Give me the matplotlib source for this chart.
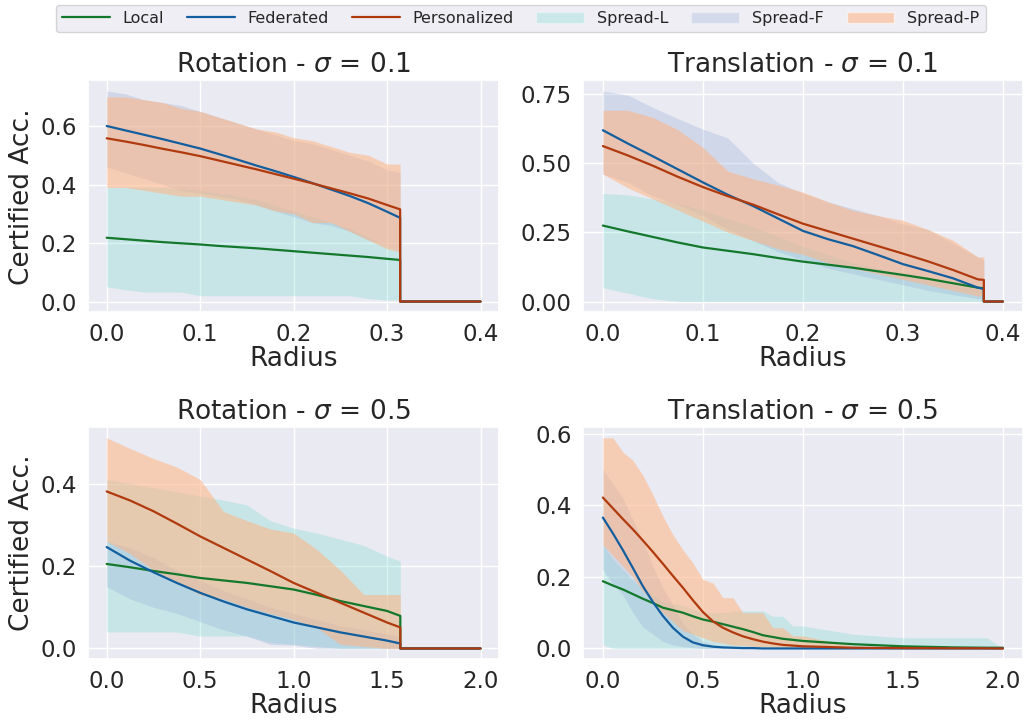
import numpy as np
import matplotlib
matplotlib.use('Agg')
import matplotlib.pyplot as plt
import seaborn as sns
from matplotlib.lines import Line2D
from matplotlib.patches import Patch

sns.set_theme(style='darkgrid')
plt.rcParams['font.family'] = ['DejaVu Sans']

# ---- data ----
titles = ['Rotation - $\\sigma$ = 0.1', 'Translation - $\\sigma$ = 0.1',
          'Rotation - $\\sigma$ = 0.5', 'Translation - $\\sigma$ = 0.5']
r_max = [0.4, 0.4, 2.0, 2.0]

# Rotation sigma=0.1
r_rot01 = [0, 0.02, 0.04, 0.06, 0.08, 0.10, 0.12, 0.14, 0.16, 0.18, 0.20, 0.22, 0.24, 0.26, 0.28, 0.30, 0.314]
local_rot01 = [0.218, 0.213, 0.208, 0.203, 0.199, 0.195, 0.190, 0.186, 0.182, 0.177, 0.172, 0.167, 0.162, 0.157, 0.152, 0.146, 0.142]
fed_rot01 = [0.600, 0.585, 0.570, 0.555, 0.539, 0.523, 0.504, 0.485, 0.465, 0.446, 0.426, 0.405, 0.383, 0.361, 0.336, 0.307, 0.286]
pers_rot01 = [0.558, 0.547, 0.535, 0.522, 0.510, 0.497, 0.482, 0.467, 0.452, 0.436, 0.420, 0.404, 0.387, 0.370, 0.352, 0.330, 0.315]
l_lo_rot01 = [0.05, 0.04, 0.032, 0.032, 0.032, 0.02, 0.02, 0.02, 0.02, 0.02, 0.02, 0.02, 0.02, 0.02, 0.01, 0.005, 0.005]
l_hi_rot01 = [0.39, 0.39, 0.39, 0.39, 0.385, 0.38, 0.37, 0.36, 0.35, 0.33, 0.31, 0.29, 0.27, 0.25, 0.22, 0.19, 0.17]
f_lo_rot01 = [0.46, 0.44, 0.42, 0.40, 0.38, 0.37, 0.36, 0.35, 0.33, 0.31, 0.29, 0.27, 0.26, 0.24, 0.21, 0.19, 0.17]
f_hi_rot01 = [0.72, 0.71, 0.69, 0.68, 0.67, 0.65, 0.63, 0.61, 0.59, 0.57, 0.55, 0.54, 0.52, 0.50, 0.48, 0.45, 0.44]
p_lo_rot01 = [0.39, 0.39, 0.38, 0.37, 0.36, 0.36, 0.35, 0.34, 0.33, 0.31, 0.30, 0.27, 0.27, 0.24, 0.21, 0.18, 0.17]
p_hi_rot01 = [0.70, 0.70, 0.69, 0.68, 0.66, 0.65, 0.63, 0.61, 0.59, 0.58, 0.56, 0.55, 0.53, 0.51, 0.50, 0.47, 0.47]

# Translation sigma=0.1
r_tr01 = [0, 0.025, 0.05, 0.075, 0.1, 0.125, 0.15, 0.175, 0.2, 0.225, 0.25, 0.275, 0.3, 0.325, 0.35, 0.375, 0.381]
local_tr01 = [0.274, 0.253, 0.233, 0.213, 0.195, 0.183, 0.171, 0.157, 0.144, 0.133, 0.122, 0.109, 0.096, 0.082, 0.066, 0.050, 0.048]
fed_tr01 = [0.618, 0.570, 0.524, 0.477, 0.430, 0.385, 0.345, 0.300, 0.255, 0.225, 0.200, 0.168, 0.135, 0.110, 0.084, 0.050, 0.045]
pers_tr01 = [0.561, 0.527, 0.490, 0.450, 0.413, 0.380, 0.350, 0.315, 0.281, 0.254, 0.227, 0.200, 0.173, 0.145, 0.114, 0.080, 0.078]
l_lo_tr01 = [0.05, 0.03, 0.01, 0, 0, 0, 0, 0, 0, 0, 0, 0, 0, 0, 0, 0, 0]
l_hi_tr01 = [0.39, 0.385, 0.37, 0.355, 0.33, 0.30, 0.27, 0.235, 0.20, 0.17, 0.14, 0.12, 0.10, 0.08, 0.06, 0.045, 0.04]
f_lo_tr01 = [0.46, 0.43, 0.38, 0.35, 0.31, 0.26, 0.22, 0.18, 0.15, 0.12, 0.10, 0.08, 0.06, 0.04, 0.025, 0.01, 0.01]
f_hi_tr01 = [0.76, 0.745, 0.70, 0.66, 0.622, 0.59, 0.50, 0.43, 0.39, 0.36, 0.335, 0.31, 0.28, 0.26, 0.21, 0.16, 0.15]
p_lo_tr01 = [0.46, 0.41, 0.37, 0.33, 0.29, 0.25, 0.22, 0.19, 0.17, 0.14, 0.12, 0.10, 0.08, 0.06, 0.04, 0.02, 0.02]
p_hi_tr01 = [0.69, 0.69, 0.664, 0.62, 0.556, 0.47, 0.443, 0.42, 0.395, 0.36, 0.329, 0.31, 0.293, 0.26, 0.221, 0.161, 0.161]

# Rotation sigma=0.5
r_rot05 = [0, 0.125, 0.25, 0.375, 0.5, 0.625, 0.75, 0.875, 1.0, 1.125, 1.25, 1.375, 1.5, 1.571]
local_rot05 = [0.205, 0.197, 0.188, 0.180, 0.171, 0.165, 0.159, 0.151, 0.143, 0.130, 0.115, 0.103, 0.091, 0.079]
fed_rot05 = [0.246, 0.213, 0.185, 0.159, 0.135, 0.114, 0.095, 0.079, 0.063, 0.051, 0.039, 0.029, 0.019, 0.012]
pers_rot05 = [0.381, 0.359, 0.333, 0.303, 0.272, 0.244, 0.216, 0.188, 0.159, 0.135, 0.111, 0.087, 0.063, 0.051]
l_lo_rot05 = [0.04, 0.04, 0.04, 0.04, 0.03, 0.03, 0.03, 0.015, 0.01, 0.005, 0, 0, 0, 0]
l_hi_rot05 = [0.41, 0.40, 0.39, 0.38, 0.37, 0.36, 0.348, 0.31, 0.292, 0.28, 0.265, 0.25, 0.224, 0.212]
f_lo_rot05 = [0.15, 0.12, 0.10, 0.085, 0.065, 0.045, 0.03, 0.01, 0.008, 0, 0, 0, 0, 0]
f_hi_rot05 = [0.26, 0.245, 0.22, 0.19, 0.165, 0.14, 0.12, 0.10, 0.085, 0.07, 0.055, 0.045, 0.035, 0.03]
p_lo_rot05 = [0.26, 0.23, 0.19, 0.16, 0.13, 0.12, 0.10, 0.085, 0.07, 0.05, 0.01, 0.005, 0, 0]
p_hi_rot05 = [0.511, 0.485, 0.461, 0.44, 0.41, 0.332, 0.31, 0.29, 0.28, 0.24, 0.19, 0.131, 0.131, 0.131]

# Translation sigma=0.5
r_tr05 = [0, 0.05, 0.1, 0.15, 0.2, 0.25, 0.3, 0.35, 0.4, 0.45, 0.5, 0.55, 0.6, 0.65, 0.7, 0.75,
          0.8, 0.85, 0.9, 0.95, 1.0, 1.25, 1.5, 1.75, 1.92, 2.0]
local_tr05 = [0.188, 0.176, 0.165, 0.152, 0.139, 0.127, 0.114, 0.107, 0.100, 0.090, 0.081, 0.075, 0.068,
              0.061, 0.054, 0.046, 0.037, 0.032, 0.027, 0.024, 0.021, 0.012, 0.006, 0.003, 0.002, 0.002]
fed_tr05 = [0.366, 0.322, 0.275, 0.225, 0.174, 0.130, 0.091, 0.058, 0.033, 0.017, 0.009, 0.005, 0.003,
            0.002, 0.001, 0.001, 0, 0, 0, 0, 0, 0, 0, 0, 0, 0]
pers_tr05 = [0.422, 0.392, 0.362, 0.333, 0.302, 0.270, 0.237, 0.203, 0.170, 0.135, 0.102, 0.076, 0.058,
             0.045, 0.034, 0.026, 0.019, 0.014, 0.010, 0.008, 0.006, 0.002, 0.001, 0.0005, 0.0003, 0]
l_lo_tr05 = [0.01, 0, 0, 0, 0, 0, 0, 0, 0, 0, 0, 0, 0, 0, 0, 0, 0, 0, 0, 0, 0, 0, 0, 0, 0, 0]
l_hi_tr05 = [0.29, 0.25, 0.22, 0.19, 0.17, 0.15, 0.13, 0.125, 0.12, 0.11, 0.10, 0.10, 0.10, 0.105,
             0.105, 0.105, 0.105, 0.09, 0.09, 0.063, 0.063, 0.04, 0.03, 0.03, 0.03, 0]
f_lo_tr05 = [0.22, 0.18, 0.15, 0.10, 0.06, 0.04, 0.02, 0.01, 0.005, 0.002, 0, 0, 0, 0, 0, 0, 0, 0, 0,
             0, 0, 0, 0, 0, 0, 0]
f_hi_tr05 = [0.50, 0.46, 0.42, 0.36, 0.30, 0.23, 0.17, 0.12, 0.07, 0.04, 0.02, 0.01, 0.005, 0.003,
             0.002, 0.001, 0, 0, 0, 0, 0, 0, 0, 0, 0, 0]
p_lo_tr05 = [0.29, 0.26, 0.23, 0.20, 0.16, 0.13, 0.10, 0.075, 0.05, 0.04, 0.03, 0.02, 0.015, 0.01,
             0.008, 0.006, 0.005, 0.003, 0.002, 0.001, 0, 0, 0, 0, 0, 0]
p_hi_tr05 = [0.589, 0.589, 0.549, 0.526, 0.484, 0.43, 0.37, 0.318, 0.276, 0.239, 0.193, 0.183, 0.142,
             0.142, 0.10, 0.10, 0.10, 0.058, 0.058, 0.035, 0.035, 0.007, 0, 0, 0, 0]

panels = [
    (r_rot01, local_rot01, fed_rot01, pers_rot01, l_lo_rot01, l_hi_rot01, f_lo_rot01, f_hi_rot01, p_lo_rot01, p_hi_rot01),
    (r_tr01, local_tr01, fed_tr01, pers_tr01, l_lo_tr01, l_hi_tr01, f_lo_tr01, f_hi_tr01, p_lo_tr01, p_hi_tr01),
    (r_rot05, local_rot05, fed_rot05, pers_rot05, l_lo_rot05, l_hi_rot05, f_lo_rot05, f_hi_rot05, p_lo_rot05, p_hi_rot05),
    (r_tr05, local_tr05, fed_tr05, pers_tr05, l_lo_tr05, l_hi_tr05, f_lo_tr05, f_hi_tr05, p_lo_tr05, p_hi_tr05),
]

yticks = [[0, 0.2, 0.4, 0.6], [0, 0.25, 0.5, 0.75], [0, 0.2, 0.4], [0, 0.2, 0.4, 0.6]]
xticks = [[0, 0.1, 0.2, 0.3, 0.4], [0, 0.1, 0.2, 0.3, 0.4],
          [0, 0.5, 1.0, 1.5, 2.0], [0, 0.5, 1.0, 1.5, 2.0]]

c_local, c_fed, c_pers = '#13782c', '#125e9e', '#b03a0e'
c_sl, c_sf, c_sp = '#78dcd0', '#93aed7', '#ffb482'
a_sl, a_sf, a_sp = 0.3, 0.3, 0.55

# ---- figure ----
fig = plt.figure(figsize=(10.28, 7.24), dpi=100)
positions = [[0.0856, 0.569, 0.400, 0.320], [0.567, 0.569, 0.428, 0.320],
             [0.0856, 0.0898, 0.400, 0.320], [0.567, 0.0898, 0.428, 0.320]]

for i, (r, loc, fed, pers, llo, lhi, flo, fhi, plo, phi) in enumerate(panels):
    ax = fig.add_axes(positions[i])
    ax.fill_between(r, llo, lhi, color=c_sl, alpha=a_sl, linewidth=0)
    ax.fill_between(r, flo, fhi, color=c_sf, alpha=a_sf, linewidth=0)
    ax.fill_between(r, plo, phi, color=c_sp, alpha=a_sp, linewidth=0)

    # after the last certified radius the accuracy drops to zero
    if r[-1] < r_max[i]:
        xs = list(r) + [r[-1], r_max[i]]
        tail = [0, 0]
    else:
        xs = list(r)
        tail = []
    ax.plot(xs, list(loc) + tail, color=c_local, lw=1.6)
    ax.plot(xs, list(fed) + tail, color=c_fed, lw=1.6)
    ax.plot(xs, list(pers) + tail, color=c_pers, lw=1.6)

    ax.set_xticks(xticks[i])
    ax.set_yticks(yticks[i])
    ax.tick_params(labelsize=16.5, pad=2)
    ax.set_title(titles[i], fontsize=19, pad=6)
    ax.set_xlabel('Radius', fontsize=19, labelpad=0)
    if i % 2 == 0:
        ax.set_ylabel('Certified Acc.', fontsize=19, labelpad=4)

handles = [Line2D([], [], color=c_local, lw=1.6), Line2D([], [], color=c_fed, lw=1.6),
           Line2D([], [], color=c_pers, lw=1.6),
           Patch(facecolor=c_sl, alpha=a_sl), Patch(facecolor=c_sf, alpha=a_sf),
           Patch(facecolor=c_sp, alpha=a_sp)]
labels = ['Local', 'Federated', 'Personalized', 'Spread-L', 'Spread-F', 'Spread-P']
fig.legend(handles, labels, loc='upper left', ncol=6, mode='expand',
           bbox_to_anchor=(0.051, 0.998, 0.911, 0.0), fontsize=11.5,
           handlelength=3, borderaxespad=0.2)

fig.savefig('out.png', dpi=100)
